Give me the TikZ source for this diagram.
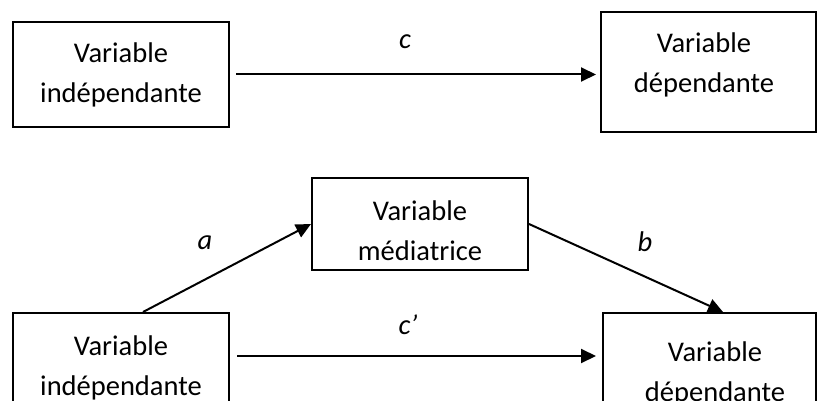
\documentclass[tikz,border=0pt]{standalone}
\usepackage{fontspec}
\setmainfont{Carlito}
\usetikzlibrary{arrows.meta}
\begin{document}
\begin{tikzpicture}[x=1pt,y=-1pt,
  box/.style={draw=black, line width=2pt, inner sep=0pt, rectangle},
  txt/.style={font=\fontsize{28.5}{40}\selectfont, align=center, inner sep=0pt},
  lbl/.style={font=\fontsize{28.5}{40}\selectfont\itshape, inner sep=0pt},
  arr/.style={line width=2pt, -{Triangle[length=15pt,width=14pt]}}]
\fill[white] (0,0) rectangle (817,401);
\useasboundingbox (0,0) rectangle (817,401);
% top row
\node[box, minimum width=216pt, minimum height=105pt] (iv1) at (121,74.5) {};
\node[box, minimum width=215pt, minimum height=120pt] (dv1) at (708.5,72) {};
\node[txt] (tiv1) at (121,75) {Variable\\indépendante};
\node[txt] (tdv1) at (704,65) {Variable\\dépendante};
\draw[arr, shorten <=6pt, shorten >=4pt] (iv1.east) -- (iv1.east -| dv1.west);
\node[lbl] (lc) at (405,42) {c};
% bottom row
\node[box, minimum width=216pt, minimum height=92pt] (med) at (420,224) {};
\node[box, minimum width=216pt, minimum height=117pt] (iv2) at (121,371.5) {};
\node[box, minimum width=213pt, minimum height=117pt] (dv2) at (709.5,371.5) {};
\node[txt] (tmed) at (420,230.5) {Variable\\médiatrice};
\node[txt] (tiv2) at (121,368) {Variable\\indépendante};
\node[txt] (tdv2) at (715,374) {Variable\\dépendante};
\draw[arr] ([xshift=22pt]iv2.north) -- (med.west);
\draw[arr] (med.east) -- ([xshift=13.5pt]dv2.north);
\draw[arr, shorten <=7pt, shorten >=6pt] ([yshift=-44pt]iv2.north east) -- ([yshift=-44pt]iv2.north east -| dv2.west);
\node[lbl] (la) at (205,243) {a};
\node[lbl] (lb) at (645,242) {b};
\node[lbl] (lcp) at (408,325) {c’};
\end{tikzpicture}
\end{document}
